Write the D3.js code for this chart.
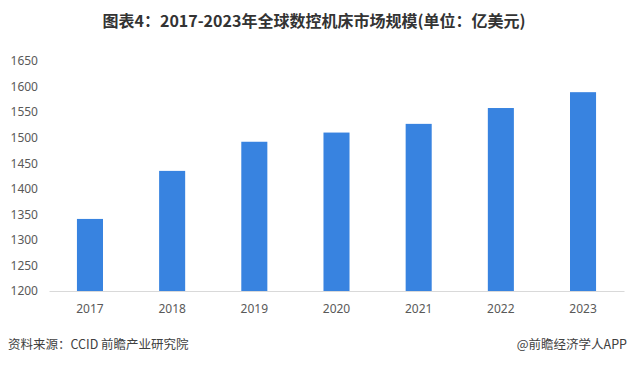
<!DOCTYPE html>
<html><head><meta charset="utf-8">
<script src="https://cdn.jsdelivr.net/npm/d3@7/dist/d3.min.js"></script>
<style>
html,body{margin:0;padding:0;background:#fff;}
svg{display:block;font-family:"Microsoft YaHei","Noto Sans CJK SC",sans-serif;}
</style></head>
<body>
<svg id="chart" width="634" height="365"></svg>
<script>
const categories = ["2017","2018","2019","2020","2021","2022","2023"];
const values = [1341, 1435, 1492, 1510, 1527, 1558, 1589];
const yTicks = [1200,1250,1300,1350,1400,1450,1500,1550,1600,1650];
const title = "图表4：2017-2023年全球数控机床市场规模(单位：亿美元)";
const source = "资料来源：CCID 前瞻产业研究院";
const credit = "@前瞻经济学人APP";

const svg = d3.select("#chart");
const W = 634, H = 365;
const m = {left:49, right:10, top:61, bottom:74};

const x = d3.scaleBand().domain(categories).range([m.left, W - m.right]).paddingInner(0.683).paddingOuter(0.34);
const y = d3.scaleLinear().domain([1200,1650]).range([H - m.bottom, m.top]);

svg.append("text").attr("x", 314).attr("y", 27).attr("text-anchor","middle")
  .attr("font-size", 16).attr("font-weight","bold").attr("fill","#333").text(title);

// bars
svg.append("g").selectAll("rect").data(values).join("rect")
  .attr("x", (d,i)=>x(categories[i]))
  .attr("width", x.bandwidth())
  .attr("y", d=>y(d))
  .attr("height", d=>y(1200)-y(d))
  .attr("fill","#3883e0");

// x axis
const xa = svg.append("g").attr("transform",`translate(0,${y(1200)})`)
  .call(d3.axisBottom(x).tickSize(0).tickPadding(13));
xa.select(".domain").attr("stroke","#d9d9d9");
xa.selectAll("text").attr("font-size",12).attr("fill","#595959").attr("font-family","Noto Sans, sans-serif");

// y axis
const ya = svg.append("g").attr("transform",`translate(38,0)`)
  .call(d3.axisLeft(y).tickValues(yTicks).tickFormat(d3.format("d")).tickSize(0).tickPadding(0));
ya.select(".domain").remove();
ya.selectAll("text").attr("font-size",12).attr("fill","#595959").attr("font-family","Noto Sans, sans-serif");

svg.append("text").attr("x", 8).attr("y", 349).attr("font-size",12.5).attr("fill","#404040").text(source);
svg.append("text").attr("x", 627).attr("y", 349).attr("text-anchor","end").attr("font-size",12.5).attr("fill","#404040").text(credit);
</script>
</body></html>
